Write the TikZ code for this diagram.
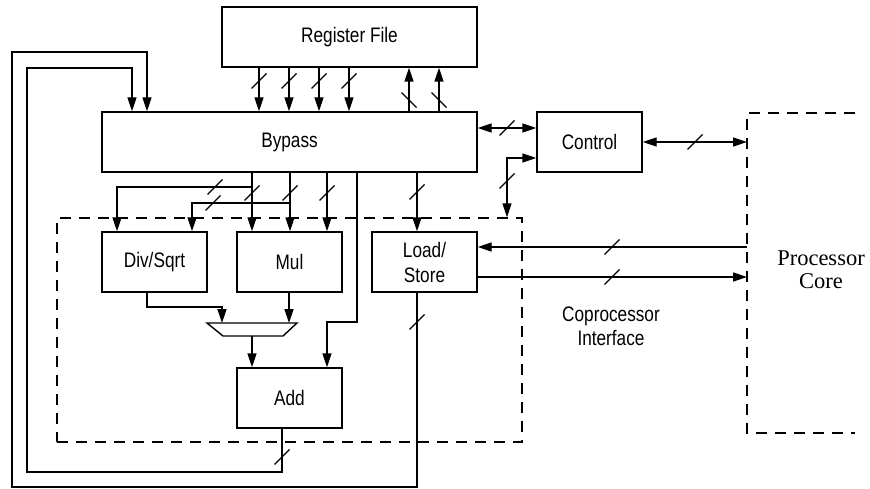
\documentclass[tikz,border=0pt]{standalone}
\usepackage{fontspec}
\newfontfamily\lsans{Liberation Sans}[FakeStretch=0.82]
\newfontfamily\lserif{Liberation Serif}
\usetikzlibrary{arrows.meta,calc}
\begin{document}
\begin{tikzpicture}[x=1pt,y=-1pt,
  line width=1.4pt,
  blk/.style={draw, line width=1.4pt, inner sep=0pt, font=\lsans\fontsize{21}{25}\selectfont, align=center},
  arr/.style={-{Triangle[length=14pt,width=9pt]}},
  darr/.style={{Triangle[length=14pt,width=9pt]}-{Triangle[length=14pt,width=9pt]}},
  dsh/.style={dash pattern=on 11pt off 8pt, line width=1.3pt},
  sl/.pic={\draw[line width=1.2pt] (-7.5,7.5) -- (7.5,-7.5);},
  bsl/.pic={\draw[line width=1.2pt] (-7.5,-7.5) -- (7.5,7.5);},
]
\useasboundingbox (0,0) rectangle (870,489);

% blocks
\node[blk, minimum width=255pt, minimum height=60pt] (rf) at (349.5,37) {Register File};
\node[blk, minimum width=375pt, minimum height=60pt] (bp) at (289.5,142) {Bypass};
\node[blk, minimum width=105pt, minimum height=60pt] (ctl) at (589.5,142) {Control};
\node[blk, minimum width=105pt, minimum height=60pt] (ds) at (154.5,262) {Div/Sqrt};
\node[blk, minimum width=105pt, minimum height=60pt] (mul) at (289.5,262) {Mul};
\node[blk, minimum width=105pt, minimum height=60pt] (ls) at (424.5,262) {Load/\\Store};
\node[blk, minimum width=105pt, minimum height=60pt] (add) at (289.5,398) {Add};

% dashed regions
\node[draw, dsh, inner sep=0pt, minimum width=465pt, minimum height=224pt] (cop) at (289.5,330) {};
\coordinate (pcTL) at (747,113);
\coordinate (pcBL) at (747,433);
\draw[dsh] (855,113) -- (pcTL) -- (pcBL) -- (855,433);

\node[font=\lsans\fontsize{21}{24}\selectfont, align=center] (cit) at (611,326) {Coprocessor\\Interface};
\node[font=\lserif\fontsize{22.5}{23}\selectfont, align=center] (pct) at (821,270) {Processor\\Core};

% mux
\coordinate (mxTL) at (207,323);
\coordinate (mxTR) at (297,323);
\coordinate (mxBR) at (283,336);
\coordinate (mxBL) at (223,336);
\draw (mxTL) -- (mxTR) -- (mxBR) -- (mxBL) -- cycle;

% Register file <-> Bypass
\foreach \x in {259,289,319,349}{
  \draw[arr] (rf.south -| \x,0) -- (bp.north -| \x,0);
  \path (\x,81) pic{sl};
}
\foreach \x in {409,439}{
  \draw[arr] (bp.north -| \x,0) -- (rf.south -| \x,0);
  \path (\x,100) pic{bsl};
}

% Bypass <-> Control
\draw[darr] (bp.east |- 0,128) -- (ctl.west |- 0,128);
\path (507,128) pic{sl};
% Control <-> coprocessor interface
\draw[darr] (cop.north -| 507,0) |- (ctl.west |- 0,158);
\path (507,181) pic{sl};
% Control <-> processor core
\draw[darr] (ctl.east) -- (pcTL |- ctl.east);
\path (695,142) pic{sl};
% Processor core <-> Load/Store
\draw[arr] (pcTL |- 0,247) -- (ls.east |- 0,247);
\draw[arr] (ls.east |- 0,277) -- (pcTL |- 0,277);
\path (612,247) pic{sl};
\path (612,277) pic{sl};

% Bypass -> Load/Store
\draw[arr] (bp.south -| 417,0) -- (ls.north -| 417,0);
\path (417,192) pic{sl};
% Bypass -> Mul
\foreach \x in {252,290,327}{
  \draw[arr] (bp.south -| \x,0) -- (mul.north -| \x,0);
  \path (\x,193) pic{sl};
}
% Bypass -> Div/Sqrt
\coordinate (j1) at (252,187);
\coordinate (j2) at (290,203);
\draw[arr] (j1) -| (ds.north -| 117,0);
\draw[arr] (j2) -| (ds.north -| 192,0);
\path (215,187) pic{sl};
\path (213,203) pic{sl};
% Bypass -> Add
\draw[arr] (bp.south -| 357,0) |- (327,322) -- (add.north -| 327,0);

% units -> mux -> Add
\draw[arr] (ds.south -| 147,0) |- (222,307) -- (mxTL -| 222,0);
\draw[arr] (mul.south -| 289,0) -- (mxTL -| 289,0);
\draw[arr] (mxBL -| 252,0) -- (add.north -| 252,0);

% feedback loops
\draw[arr] (add.south -| 282,0) -- (282,472) -| (27,68) -| (bp.north -| 132,0);
\path (282,457) pic{sl};
\draw[arr] (ls.south -| 417,0) -- (417,487) -| (12,52) -| (bp.north -| 147,0);
\path (417,322) pic{sl};
\end{tikzpicture}
\end{document}
